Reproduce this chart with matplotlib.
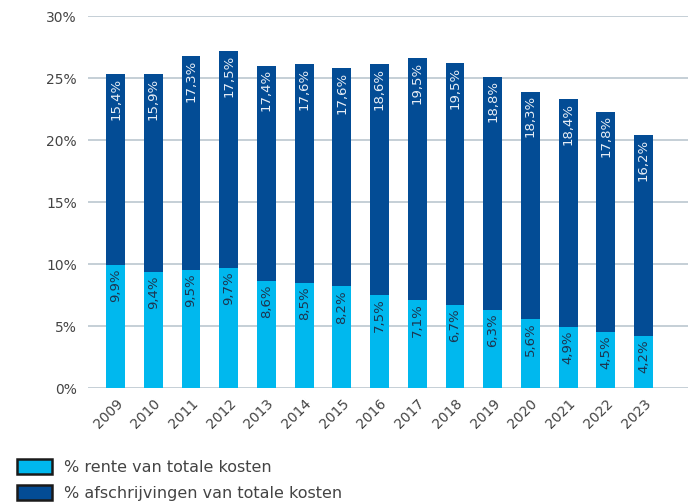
import matplotlib.pyplot as plt
from matplotlib.patches import Patch

# Kostenverdeling per jaar
jaren = ["2009", "2010", "2011", "2012", "2013", "2014", "2015", "2016",
         "2017", "2018", "2019", "2020", "2021", "2022", "2023"]
rente = [9.9, 9.4, 9.5, 9.7, 8.6, 8.5, 8.2, 7.5, 7.1, 6.7, 6.3, 5.6, 4.9, 4.5, 4.2]
afschrijving = [15.4, 15.9, 17.3, 17.5, 17.4, 17.6, 17.6, 18.6, 19.5, 19.5,
                18.8, 18.3, 18.4, 17.8, 16.2]

licht = "#00b8ee"
donker = "#034c95"
tekst = "#444444"

plt.rcParams["font.family"] = "DejaVu Sans"

fig = plt.figure(figsize=(6.88, 5.04), dpi=100)
ax = fig.add_axes([0.128, 0.230, 0.872, 0.738])

x = list(range(len(jaren)))
ax.bar(x, rente, width=0.5, color=licht, zorder=3)
ax.bar(x, afschrijving, width=0.5, bottom=rente, color=donker, zorder=3)


def fmt(v):
    return f"{v:.1f}%".replace(".", ",")


for i in x:
    ax.annotate(fmt(rente[i]), (i, rente[i]), xytext=(0, -2.5),
                textcoords="offset points", rotation=90, ha="center",
                va="top", fontsize=9.5, color="#1d3550", zorder=4)
    top = rente[i] + afschrijving[i]
    ax.annotate(fmt(afschrijving[i]), (i, top), xytext=(0, -2.5),
                textcoords="offset points", rotation=90, ha="center",
                va="top", fontsize=9.5, color="#e8eef6", zorder=4)

ax.set_xlim(-0.73, len(jaren) - 1 + 1.18)
ax.set_ylim(0, 30)
ax.set_yticks(range(0, 31, 5))
ax.set_yticklabels([f"{v}%" for v in range(0, 31, 5)])
ax.set_xticks(x)
ax.set_xticklabels(jaren, rotation=45, ha="right", rotation_mode="anchor")
ax.yaxis.grid(True, color="#c0cbd3", linewidth=1.3, zorder=0)
for s in ax.spines.values():
    s.set_visible(False)
ax.tick_params(axis="both", length=0, labelsize=10, colors=tekst)
ax.tick_params(axis="y", pad=8)
ax.tick_params(axis="x", pad=6)

handles = [Patch(facecolor=licht, edgecolor="#1a1a1a", linewidth=1.8),
           Patch(facecolor=donker, edgecolor="#1a1a1a", linewidth=1.8)]
fig.legend(handles, ["% rente van totale kosten",
                     "% afschrijvingen van totale kosten"],
           loc="lower left", bbox_to_anchor=(0.004, -0.022), frameon=False,
           fontsize=11.5, labelcolor=tekst, handlelength=2.2,
           handleheight=1.1, handletextpad=0.75, labelspacing=0.6)

fig.savefig("out.png", dpi=100)
